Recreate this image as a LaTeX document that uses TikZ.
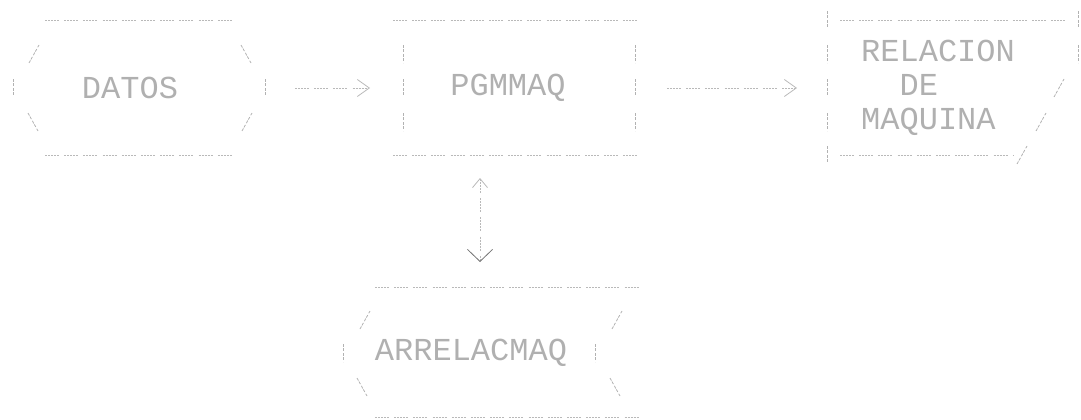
\documentclass[tikz,border=0pt]{standalone}
\usepackage{fontspec}
\newfontfamily\printfont{Liberation Mono}
\usetikzlibrary{arrows.meta}
\tikzset{
    rule line/.style={line width=.8pt, gray!55,
        dash pattern=on 2pt off 1pt on 2pt off 1pt on 2pt off 1pt on 2pt off 1pt on 2pt off 5.2pt},
    bar line/.style={line width=.8pt, gray!60, dash pattern=on 3pt off 1pt on 3pt off 2pt},
    flow line/.style={line width=.8pt, gray!55,
        dash pattern=on 2pt off 1pt on 2pt off 1pt on 2pt off 1pt on 2pt off 1pt on 2pt off 5.2pt},
    print text/.style={
        font=\printfont\fontsize{32}{34}\selectfont,
        text=gray!62,
        inner sep=0pt,
        align=left
    }
}
\newcommand{\CharBar}[2]{\draw[bar line](#1,#2-9)--(#1,#2+9);}
\newcommand{\CharSlash}[2]{\draw[bar line](#1-5,#2+9)--(#1+5,#2-9);}
\newcommand{\CharBack}[2]{\draw[bar line](#1-5,#2-9)--(#1+5,#2+9);}

\begin{document}
\begin{tikzpicture}[x=1pt,y=-1pt]
    \useasboundingbox(0,0)rectangle(1081,420);

    \coordinate(datos r)at(265,88);
    \coordinate(pgm l)at(403,88);
    \coordinate(pgm r)at(635,88);
    \coordinate(rel l)at(827,88);
    \coordinate(pgm b)at(480,155);
    \coordinate(arr t)at(480,287);

    \node[print text](datos)at(130,88){DATOS};
    \draw[rule line](45,20)--(235,20);
    \draw[rule line](45,155)--(235,155);
    \CharSlash{34}{54}\CharBar{13}{88}\CharBack{33}{122}
    \CharBack{246}{54}\CharBar{265}{88}\CharSlash{247}{122}

    \node[print text](pgmmaq)at(508,88){PGMMAQ};
    \draw[rule line](393,20)--(642,20);
    \draw[rule line](393,155)--(642,155);
    \foreach \r in {54,88,122}{\CharBar{403}{\r}\CharBar{635}{\r}}

    \node[print text,anchor=west](relacion)at(861,88){RELACION\\~~DE\\MAQUINA};
    \draw[rule line](840,20)--(1070,20);
    \draw[rule line](840,155)--(1013,155);
    \foreach \r in {20,54,88,122,155}{\CharBar{827}{\r}}
    \CharBar{1078}{20}\CharBar{1078}{54}
    \CharSlash{1059}{88}\CharSlash{1041}{122}\CharSlash{1022}{155}

    \node[print text](arrelacmaq)at(471,353){ARRELACMAQ};
    \draw[rule line](375,287)--(643,287);
    \draw[rule line](375,417)--(643,417);
    \CharSlash{365}{320}\CharBar{343}{353}\CharBack{362}{387}
    \CharSlash{617}{320}\CharBar{595}{353}\CharBack{615}{387}

    \draw[flow line,-{Straight Barb[length=12pt,width=17pt]},shorten <=30pt,shorten >=33pt]
        (datos r)--(pgm l);
    \draw[flow line,-{Straight Barb[length=12pt,width=17pt]},shorten <=32pt,shorten >=30pt]
        (pgm r)--(rel l);
    \draw[flow line,{Straight Barb[length=9pt,width=15pt]}-{Straight Barb[length=12pt,width=25pt,color=gray!90!black]},
        shorten <=23pt,shorten >=25pt]
        (pgm b)--(arr t);
\end{tikzpicture}
\end{document}
